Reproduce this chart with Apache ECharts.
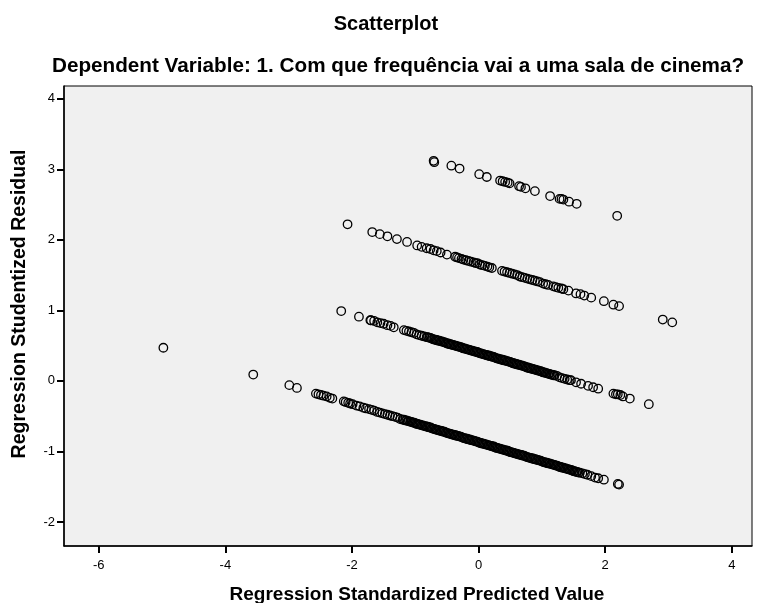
<!DOCTYPE html>
<html>
<head>
<meta charset="utf-8">
<script src="https://cdn.jsdelivr.net/npm/echarts@6/dist/echarts.min.js"></script>
<style>html,body{margin:0;padding:0;background:#fff;}#c{width:758px;height:603px;}</style>
</head>
<body>
<div id="c"></div>
<script>
// Axis tick labels
var xTicks = [-6, -4, -2, 0, 2, 4];
var yTicks = [-2, -1, 0, 1, 2, 3, 4];

// Band 1 (lowest)
var band1X = [-4.98,-3.56,-2.99,-2.87,-2.57,-2.53,-2.49,-2.45,-2.40,-2.35,-2.31,-2.13,-2.10,-2.06,-2.03,-1.99,-1.93,-1.88,-1.82,-1.78,
  -1.73,-1.69,-1.65,-1.60,-1.56,-1.52,-1.48,-1.44,-1.40,-1.36,-1.32,-1.28,-1.24,
  -1.20,-1.18,-1.16,-1.14,-1.12,-1.10,-1.08,-1.06,-1.04,-1.02,-1.00,-0.98,-0.96,-0.94,-0.92,-0.90,-0.88,-0.86,-0.84,-0.82,
  -0.80,-0.78,-0.76,-0.74,-0.72,-0.70,-0.68,-0.66,-0.64,-0.62,-0.60,-0.58,-0.56,-0.54,-0.52,-0.50,-0.48,-0.46,-0.44,-0.42,
  -0.40,-0.38,-0.36,-0.34,-0.32,-0.30,-0.28,-0.26,-0.24,-0.22,-0.20,-0.18,-0.16,-0.14,-0.12,-0.10,-0.08,-0.06,-0.04,-0.02,
  0.00,0.02,0.04,0.06,0.08,0.10,0.12,0.14,0.16,0.18,0.20,0.22,0.24,0.26,0.28,0.30,0.32,0.34,0.36,0.38,
  0.40,0.42,0.44,0.46,0.48,0.50,0.52,0.54,0.56,0.58,0.60,0.62,0.64,0.66,0.68,0.70,0.72,0.74,0.76,0.78,
  0.80,0.82,0.84,0.86,0.88,0.90,0.92,0.94,0.96,0.98,1.00,1.02,1.04,1.06,1.08,1.10,1.12,1.14,1.16,1.18,
  1.20,1.22,1.24,1.26,1.28,1.30,1.32,1.34,1.36,1.38,1.40,1.42,1.44,1.46,1.48,1.50,1.52,1.54,1.56,1.58,1.60,
  1.64,1.68,1.72,1.78,1.84,1.89,1.98,2.20,2.22];
var band1Y = [0.47,0.09,-0.06,-0.10,-0.18,-0.19,-0.20,-0.21,-0.22,-0.24,-0.25,-0.29,-0.30,-0.31,-0.32,-0.33,-0.35,-0.36,-0.38,-0.39,
  -0.40,-0.41,-0.42,-0.44,-0.45,-0.46,-0.47,-0.48,-0.49,-0.50,-0.51,-0.52,-0.54,
  -0.55,-0.55,-0.56,-0.56,-0.57,-0.57,-0.58,-0.58,-0.59,-0.59,-0.60,-0.61,-0.61,-0.62,-0.62,-0.63,-0.63,-0.64,-0.64,-0.65,
  -0.65,-0.66,-0.66,-0.67,-0.68,-0.68,-0.69,-0.69,-0.70,-0.70,-0.71,-0.71,-0.72,-0.72,-0.73,-0.74,-0.74,-0.75,-0.75,-0.76,
  -0.76,-0.77,-0.77,-0.78,-0.78,-0.79,-0.79,-0.80,-0.81,-0.81,-0.82,-0.82,-0.83,-0.83,-0.84,-0.84,-0.85,-0.85,-0.86,-0.86,
  -0.87,-0.88,-0.88,-0.89,-0.89,-0.90,-0.90,-0.91,-0.91,-0.92,-0.92,-0.93,-0.93,-0.94,-0.95,-0.95,-0.96,-0.96,-0.97,-0.97,
  -0.98,-0.98,-0.99,-0.99,-1.00,-1.01,-1.01,-1.02,-1.02,-1.03,-1.03,-1.04,-1.04,-1.05,-1.05,-1.06,-1.06,-1.07,-1.08,-1.08,
  -1.09,-1.09,-1.10,-1.10,-1.11,-1.11,-1.12,-1.12,-1.13,-1.13,-1.14,-1.15,-1.15,-1.16,-1.16,-1.17,-1.17,-1.18,-1.18,-1.19,
  -1.19,-1.20,-1.20,-1.21,-1.22,-1.22,-1.23,-1.23,-1.24,-1.24,-1.25,-1.25,-1.26,-1.26,-1.27,-1.28,-1.28,-1.29,-1.29,-1.30,-1.30,
  -1.31,-1.32,-1.33,-1.35,-1.37,-1.38,-1.40,-1.46,-1.47];

// Band 2
var band2X = [-2.17,-1.89,-1.71,-1.70,-1.65,-1.60,-1.55,-1.50,-1.44,-1.39,-1.34,
  -1.18,-1.14,-1.10,-1.06,-1.02,-0.98,-0.94,-0.90,-0.86,-0.82,
  -0.80,-0.78,-0.76,-0.74,-0.72,-0.70,-0.68,-0.66,-0.64,-0.62,-0.60,-0.58,-0.56,-0.54,-0.52,-0.50,-0.48,-0.46,-0.44,-0.42,
  -0.40,-0.38,-0.36,-0.34,-0.32,-0.30,-0.28,-0.26,-0.24,-0.22,-0.20,-0.18,-0.16,-0.14,-0.12,-0.10,-0.08,-0.06,-0.04,-0.02,
  0.00,0.02,0.04,0.06,0.08,0.10,0.12,0.14,0.16,0.18,0.20,0.22,0.24,0.26,0.28,0.30,0.32,0.34,0.36,0.38,
  0.40,0.42,0.44,0.46,0.48,0.50,0.52,0.54,0.56,0.58,0.60,0.62,0.64,0.66,0.68,0.70,0.72,0.74,0.76,0.78,
  0.80,0.82,0.84,0.86,0.88,0.90,0.92,0.94,0.96,0.98,1.00,1.02,1.04,1.06,1.08,1.10,1.12,1.14,1.16,1.18,1.20,
  1.24,1.28,1.32,1.36,1.40,1.44,1.46,
  1.54,1.62,1.73,1.81,1.89,2.13,2.17,2.20,2.24,2.28,2.39,2.69];
var band2Y = [0.99,0.91,0.86,0.86,0.85,0.83,0.82,0.81,0.79,0.78,0.76,
  0.72,0.71,0.70,0.69,0.68,0.66,0.65,0.64,0.63,0.62,
  0.62,0.61,0.61,0.60,0.59,0.59,0.58,0.58,0.57,0.57,0.56,0.56,0.55,0.55,0.54,0.53,0.53,0.52,0.52,0.51,
  0.51,0.50,0.50,0.49,0.49,0.48,0.48,0.47,0.46,0.46,0.45,0.45,0.44,0.44,0.43,0.43,0.42,0.42,0.41,0.41,
  0.40,0.39,0.39,0.38,0.38,0.37,0.37,0.36,0.36,0.35,0.35,0.34,0.34,0.33,0.32,0.32,0.31,0.31,0.30,0.30,
  0.29,0.29,0.28,0.28,0.27,0.27,0.26,0.25,0.25,0.24,0.24,0.23,0.23,0.22,0.22,0.21,0.21,0.20,0.19,0.19,
  0.18,0.18,0.17,0.17,0.16,0.16,0.15,0.15,0.14,0.14,0.13,0.12,0.12,0.11,0.11,0.10,0.10,0.09,0.09,0.08,0.08,
  0.07,0.05,0.04,0.03,0.02,0.01,0.01,
  -0.02,-0.04,-0.07,-0.09,-0.11,-0.18,-0.19,-0.19,-0.20,-0.22,-0.25,-0.33];

// Band 3
var band3X = [-2.07,-1.68,-1.56,-1.44,-1.29,-1.13,-0.97,-0.90,-0.82,-0.76,-0.71,-0.66,-0.60,-0.50,
  -0.37,-0.34,-0.31,-0.27,-0.24,-0.20,-0.16,-0.12,-0.08,-0.05,-0.02,0.02,0.06,0.10,0.14,0.17,0.21,
  0.37,0.41,0.45,0.49,0.53,0.57,0.61,0.65,0.69,0.73,0.77,0.81,0.85,0.89,0.93,0.97,1.02,1.06,1.10,
  1.18,1.22,1.26,1.31,1.34,1.42,1.54,1.61,1.67,1.78,1.98,2.13,2.22,2.91,3.06];
var band3Y = [2.22,2.11,2.08,2.05,2.01,1.97,1.92,1.90,1.88,1.87,1.85,1.84,1.82,1.79,
  1.76,1.75,1.74,1.73,1.72,1.71,1.70,1.69,1.68,1.67,1.67,1.65,1.64,1.63,1.62,1.61,1.60,
  1.56,1.55,1.54,1.53,1.52,1.51,1.50,1.48,1.47,1.46,1.45,1.44,1.43,1.42,1.41,1.40,1.38,1.37,1.36,
  1.34,1.33,1.32,1.31,1.30,1.28,1.24,1.23,1.21,1.18,1.13,1.08,1.06,0.87,0.83];

// Band 4 (highest)
var band4X = [-0.71,-0.70,-0.43,-0.30,0.01,0.13,0.34,0.38,0.42,0.46,0.49,0.64,0.67,0.74,0.89,1.13,1.28,1.31,1.34,1.43,1.55,2.19];
var band4Y = [3.12,3.10,3.05,3.01,2.93,2.89,2.84,2.83,2.82,2.81,2.80,2.76,2.75,2.73,2.69,2.62,2.58,2.58,2.57,2.54,2.51,2.34];

function zip(xs, ys) { return xs.map(function (x, i) { return [x, ys[i]]; }); }
var allPoints = [].concat(zip(band1X, band1Y), zip(band2X, band2Y), zip(band3X, band3Y), zip(band4X, band4Y));

var FONT = 'Liberation Sans, Arial, sans-serif';
var chart = echarts.init(document.getElementById('c'), null, { renderer: 'canvas' });
chart.setOption({
  animation: false,
  backgroundColor: '#ffffff',
  title: [
    { text: 'Scatterplot', left: 381, top: 9, textAlign: 'center',
      textStyle: { fontFamily: FONT, fontSize: 20, fontWeight: 'bold', color: '#000' } },
    { text: 'Dependent Variable: 1. Com que frequência vai a uma sala de cinema?', left: 393, top: 51, textAlign: 'center',
      textStyle: { fontFamily: FONT, fontSize: 20.7, fontWeight: 'bold', color: '#000' } }
  ],
  grid: { left: 64, right: 6, top: 86, bottom: 57, show: true, containLabel: false, outerBoundsMode: 'none',
    backgroundColor: '#f0f0f0', borderColor: '#000', borderWidth: 1 },
  xAxis: {
    type: 'value', min: -6.55, max: 4.32,
    axisLine: { show: true, onZero: false, lineStyle: { color: '#000', width: 1.5 } },
    axisTick: { show: true, inside: false, length: 7, lineStyle: { color: '#000', width: 2 }, customValues: xTicks },
    axisLabel: { show: true, margin: 13, fontFamily: FONT, fontSize: 13, color: '#000', customValues: xTicks },
    splitLine: { show: false },
    name: 'Regression Standardized Predicted Value', nameLocation: 'middle', nameGap: 39,
    nameTextStyle: { fontFamily: FONT, fontSize: 19, fontWeight: 'bold', color: '#000', padding: [0, 0, 0, 18] }
  },
  yAxis: {
    type: 'value', min: -2.34, max: 4.18,
    axisLine: { show: true, onZero: false, lineStyle: { color: '#000', width: 1.5 } },
    axisTick: { show: true, inside: false, length: 7, lineStyle: { color: '#000', width: 2 }, customValues: yTicks },
    axisLabel: { show: true, margin: 9, fontFamily: FONT, fontSize: 13, color: '#000', customValues: yTicks },
    splitLine: { show: false }
  },
  graphic: [
    { type: 'text', x: 20, y: 304, rotation: Math.PI / 2,
      style: { text: 'Regression Studentized Residual', fontFamily: FONT, fontSize: 19.5, fontWeight: 'bold', fill: '#000',
        textAlign: 'center', textVerticalAlign: 'middle' } }
  ],
  series: [{
    type: 'scatter',
    data: allPoints,
    symbol: 'circle',
    symbolSize: 8.5,
    itemStyle: { color: 'rgba(0,0,0,0)', borderColor: '#000', borderWidth: 1.3, opacity: 1 },
    emphasis: { disabled: true },
    silent: true
  }]
});
</script>
</body>
</html>
